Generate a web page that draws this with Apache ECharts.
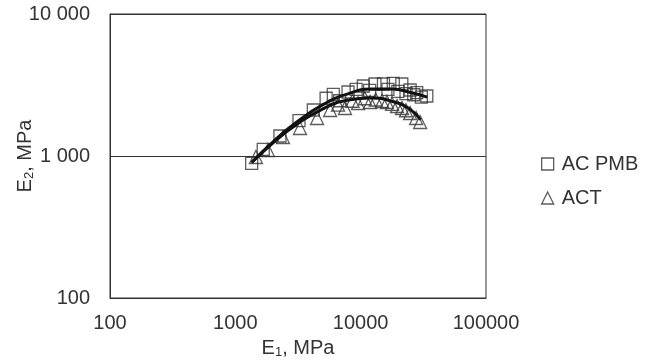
<!DOCTYPE html>
<html><head><meta charset="utf-8">
<script src="https://cdn.jsdelivr.net/npm/echarts@6/dist/echarts.min.js"></script>
<style>html,body{margin:0;padding:0;background:#fff}#c{width:654px;height:362px}</style>
</head><body><div id="c"></div>
<script>
// AC PMB measured points
const pmbE1 = [1350, 1670, 2270, 3220, 4190, 5300, 6050, 6800, 7930, 9200, 10500, 11800, 13000, 15200, 16500, 18200, 19800, 21300, 23000, 24800, 26500, 28000, 30500, 33700];
const pmbE2 = [888, 1115, 1383, 1773, 2109, 2550, 2720, 2450, 2823, 2950, 3112, 2900, 3214, 3214, 2950, 3250, 2850, 3214, 2750, 2917, 2700, 2792, 2600, 2646];
// ACT measured points
const actE1 = [1460, 1820, 2400, 3280, 4490, 5700, 6600, 7500, 8600, 9530, 10800, 11900, 13200, 14800, 16200, 17800, 19500, 21400, 23000, 24800, 27700, 29800];
const actE2 = [984, 1102, 1361, 1575, 1852, 2109, 2300, 2178, 2450, 2361, 2550, 2400, 2500, 2440, 2400, 2325, 2250, 2178, 2100, 2009, 1852, 1735];
// fitted trend curves
const fitPmbE1 = [1350, 2000, 3000, 5000, 8000, 12000, 18000, 25000, 34000];
const fitPmbE2 = [900, 1260, 1700, 2300, 2750, 2960, 2960, 2800, 2600];
const fitActE1 = [1350, 2000, 3000, 5000, 8000, 12000, 18000, 25000, 30000];
const fitActE2 = [900, 1240, 1640, 2150, 2480, 2560, 2420, 2120, 1800];
const yTickLabels = {100: '100', 1000: '1 000', 10000: '10 000'};
const xTickLabels = {100: '100', 1000: '1000', 10000: '10000', 100000: '100000'};

const zip = (a, b) => a.map((v, i) => [v, b[i]]);
const FONT = 'Liberation Sans, Arial, sans-serif';
const ink = '#333';
const FS = 20;
const chart = echarts.init(document.getElementById('c'), null, {renderer: 'canvas'});
chart.setOption({
  animation: false,
  backgroundColor: '#fff',
  textStyle: {fontFamily: FONT},
  grid: {left: 110, right: 168, top: 14, bottom: 64, containLabel: false, outerBoundsMode: 'none',
         show: true, borderColor: ink, borderWidth: 1, backgroundColor: 'transparent'},
  legend: {
    orient: 'vertical', left: 536, top: 149, itemGap: 14, itemWidth: 12, itemHeight: 12,
    textStyle: {fontSize: FS, color: ink, fontFamily: FONT, padding: [0, 0, 0, 3]},
    data: [
      {name: 'AC PMB', icon: 'rect', itemStyle: {color: 'transparent', borderColor: ink, borderWidth: 1.3}},
      {name: 'ACT', icon: 'triangle', itemStyle: {color: 'transparent', borderColor: ink, borderWidth: 1.3}}
    ]
  },
  xAxis: {
    type: 'log', logBase: 10, min: 100, max: 100000,
    axisLine: {show: true, lineStyle: {color: ink}},
    axisTick: {show: false}, splitLine: {show: false},
    axisLabel: {fontSize: FS, color: ink, margin: 15, formatter: v => xTickLabels[Math.round(v)] || ''},
    name: '{a|E}{s|1}{a|, MPa}', nameLocation: 'middle', nameGap: 39, nameMoveOverlap: false,
    nameTextStyle: {rich: {a: {fontSize: FS, color: ink, fontFamily: FONT}, s: {fontSize: 13, color: ink, fontFamily: FONT, verticalAlign: 'bottom', padding: [9, 0, 0, 0]}}}
  },
  yAxis: {
    type: 'log', logBase: 10, min: 100, max: 10000,
    axisLine: {show: true, lineStyle: {color: ink}},
    axisTick: {show: false},
    splitLine: {show: true, lineStyle: {color: ink, width: 1}},
    axisLabel: {fontSize: FS, color: ink, margin: 20, formatter: v => yTickLabels[Math.round(v)] || ''},
    name: '{a|E}{s|2}{a|, MPa}', nameLocation: 'middle', nameGap: 74, nameRotate: 90, nameMoveOverlap: false,
    nameTextStyle: {rich: {a: {fontSize: FS, color: ink, fontFamily: FONT}, s: {fontSize: 13, color: ink, fontFamily: FONT, verticalAlign: 'bottom', padding: [9, 0, 0, 0]}}}
  },
  series: [
    {name: 'AC PMB', type: 'scatter', symbol: 'rect', symbolSize: 12, data: zip(pmbE1, pmbE2),
     itemStyle: {color: 'transparent', borderColor: ink, borderWidth: 1.3}, z: 3},
    {name: 'ACT', type: 'scatter', symbol: 'triangle', symbolSize: 13, data: zip(actE1, actE2),
     itemStyle: {color: 'transparent', borderColor: ink, borderWidth: 1.3}, z: 3},
    {name: 'fitPMB', type: 'line', smooth: true, symbol: 'none', data: zip(fitPmbE1, fitPmbE2),
     lineStyle: {color: '#111', width: 3}, z: 4},
    {name: 'fitACT', type: 'line', smooth: true, symbol: 'none', data: zip(fitActE1, fitActE2),
     lineStyle: {color: '#111', width: 3}, z: 4}
  ]
});
</script></body></html>
